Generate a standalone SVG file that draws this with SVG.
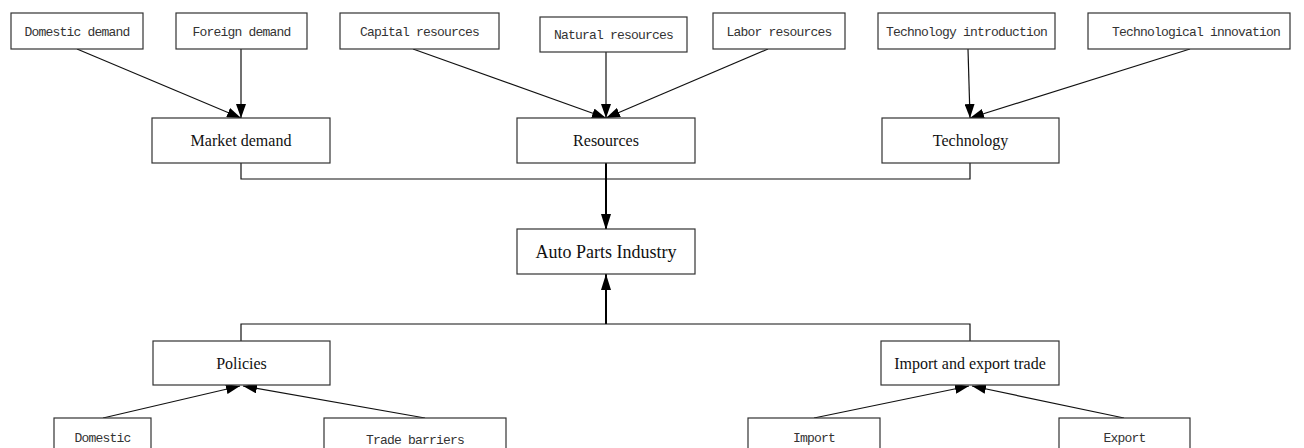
<svg xmlns="http://www.w3.org/2000/svg" width="1304" height="448" viewBox="0 0 1304 448">
<style>
.box{fill:#fff;stroke:#333;stroke-width:1.2}
.mono{font-family:"Liberation Mono",monospace;font-size:13px;letter-spacing:-0.8px;fill:#333;text-anchor:middle}
.serif{font-family:"Liberation Serif",serif;font-size:16px;fill:#111;text-anchor:middle}
.ln{fill:none;stroke:#111;stroke-width:1.2}
.ar{fill:none;stroke:#111;stroke-width:1.2;marker-end:url(#ah)}
.ar2{fill:none;stroke:#000;stroke-width:2;marker-end:url(#ah2)}
</style>
<defs>
<marker id="ah" viewBox="0 0 14 10" refX="14" refY="5" markerWidth="14" markerHeight="10" markerUnits="userSpaceOnUse" orient="auto"><path d="M0,0L14,5L0,10z" fill="#000"/></marker>
<marker id="ah2" viewBox="0 0 16 10" refX="16" refY="5" markerWidth="16" markerHeight="10" markerUnits="userSpaceOnUse" orient="auto"><path d="M0,0L16,5L0,10z" fill="#000"/></marker>
</defs>
<rect width="1304" height="448" fill="#fff"/>
<g id="connectors">
<path class="ar" d="M77,49L241,118"/>
<path class="ar" d="M241,49L241,118"/>
<path class="ar" d="M413,49L606,118"/>
<path class="ar" d="M606,52L606,118"/>
<path class="ar" d="M768,49L606,118"/>
<path class="ar" d="M968,49L970,118"/>
<path class="ar" d="M1190,49L970,118"/>
<path class="ln" d="M241,163V179H970V163"/>
<path class="ar2" d="M606,163V230"/>
<path class="ar2" d="M606,324V274"/>
<path class="ln" d="M241,341V324H970V341"/>
<path class="ar" d="M103,418L240,386"/>
<path class="ar" d="M425,418L243,386"/>
<path class="ar" d="M814,418L969,386"/>
<path class="ar" d="M1124,418L972,386"/>
</g>
<g id="domestic-demand"><rect class="box" x="11" y="13" width="132" height="36"/><text class="mono" x="77" y="36">Domestic demand</text></g>
<g id="foreign-demand"><rect class="box" x="176" y="13" width="131" height="36"/><text class="mono" x="241.5" y="36">Foreign demand</text></g>
<g id="capital-resources"><rect class="box" x="340" y="13" width="159" height="36"/><text class="mono" x="419.5" y="36">Capital resources</text></g>
<g id="natural-resources"><rect class="box" x="540" y="17" width="147" height="35"/><text class="mono" x="613.5" y="39">Natural resources</text></g>
<g id="labor-resources"><rect class="box" x="713" y="13" width="132" height="36"/><text class="mono" x="779" y="36">Labor resources</text></g>
<g id="technology-introduction"><rect class="box" x="878" y="13" width="177" height="36"/><text class="mono" x="966.5" y="36">Technology introduction</text></g>
<g id="technological-innovation"><rect class="box" x="1088" y="13" width="202" height="36"/><text class="mono" x="1196" y="36">Technological innovation</text></g>
<g id="market-demand"><rect class="box" x="152" y="118" width="178" height="45"/><text class="serif" x="241" y="146">Market demand</text></g>
<g id="resources"><rect class="box" x="517" y="118" width="178" height="45"/><text class="serif" x="606" y="146">Resources</text></g>
<g id="technology"><rect class="box" x="882" y="118" width="177" height="45"/><text class="serif" x="970.5" y="146">Technology</text></g>
<g id="auto-parts-industry"><rect class="box" x="517" y="229" width="178" height="45"/><text class="serif" x="606" y="258" style="font-size:18px">Auto Parts Industry</text></g>
<g id="policies"><rect class="box" x="153" y="341" width="177" height="44"/><text class="serif" x="241.5" y="369">Policies</text></g>
<g id="import-export-trade"><rect class="box" x="881" y="341" width="178" height="44"/><text class="serif" x="970" y="369">Import and export trade</text></g>
<g id="domestic"><rect class="box" x="54" y="418" width="97" height="40"/><text class="mono" x="102.5" y="441.5">Domestic</text></g>
<g id="trade-barriers"><rect class="box" x="324" y="418" width="182" height="40"/><text class="mono" x="415" y="443.5">Trade barriers</text></g>
<g id="import"><rect class="box" x="748" y="418" width="132" height="40"/><text class="mono" x="814" y="441.5">Import</text></g>
<g id="export"><rect class="box" x="1059" y="418" width="131" height="40"/><text class="mono" x="1124.5" y="441.5">Export</text></g>
</svg>
